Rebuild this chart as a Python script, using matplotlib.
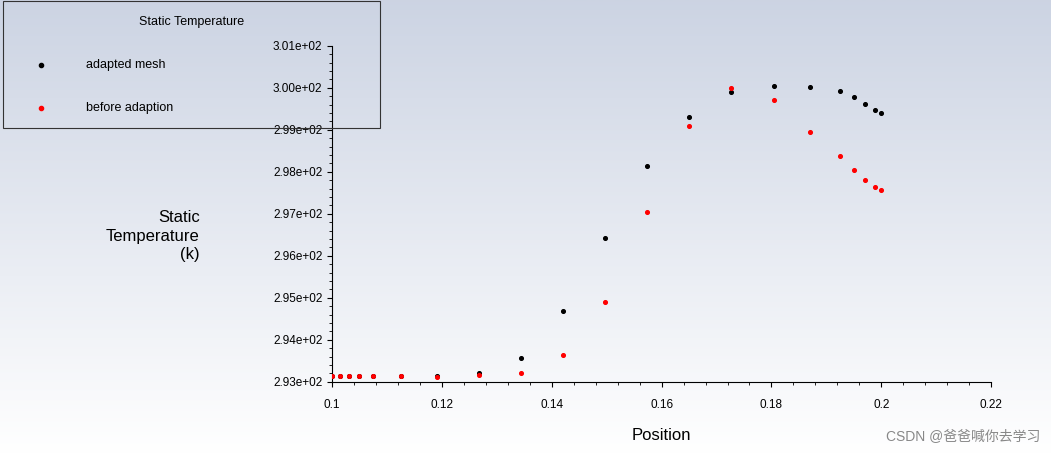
import matplotlib
matplotlib.use("Agg")
import matplotlib.pyplot as plt
import numpy as np
from matplotlib.ticker import MultipleLocator, FuncFormatter

plt.rcParams['font.family'] = ['Liberation Sans', 'Noto Sans CJK SC', 'DejaVu Sans']

x = [0.1, 0.1015, 0.1031, 0.1049, 0.1075, 0.1126, 0.1191, 0.1268, 0.1344, 0.1421, 0.1497,
     0.1574, 0.165, 0.1727, 0.1805, 0.1870, 0.1925, 0.1951, 0.1971, 0.1989, 0.2]
adapted = [293.15, 293.15, 293.15, 293.15, 293.15, 293.15, 293.14, 293.2, 293.57, 294.69, 296.43,
           298.14, 299.31, 299.9, 300.05, 300.02, 299.93, 299.79, 299.62, 299.48, 299.40]
before = [293.15, 293.15, 293.15, 293.15, 293.15, 293.14, 293.12, 293.17, 293.21, 293.64, 294.9,
          297.05, 299.1, 300.0, 299.71, 298.95, 298.38, 298.05, 297.81, 297.64, 297.57]

fig = plt.figure(figsize=(10.51, 4.54), dpi=100)
bg = fig.add_axes([0, 0, 1, 1], zorder=-10)
grad = np.linspace(0, 1, 256).reshape(-1, 1)
top = np.array([0.80, 0.83, 0.89]); bot = np.array([1.0, 1.0, 1.0])
img = top[None, None, :] * (1 - grad[:, :, None]) + bot[None, None, :] * grad[:, :, None]
bg.imshow(img, aspect='auto', extent=[0, 1, 0, 1])
bg.axis('off')

ax = fig.add_axes([0.316, 0.159, 0.627, 0.740])
ax.patch.set_alpha(0)
ax.scatter(x, adapted, s=7, color='black', zorder=3)
ax.scatter(x, before, s=7, color='red', zorder=3)
ax.set_xlim(0.1, 0.22)
ax.set_ylim(293, 301)
for s in ['top', 'right']:
    ax.spines[s].set_visible(False)
ax.xaxis.set_major_locator(MultipleLocator(0.02))
ax.xaxis.set_minor_locator(MultipleLocator(0.004))
ax.yaxis.set_major_locator(MultipleLocator(1))
ax.yaxis.set_minor_locator(MultipleLocator(0.2))
ax.yaxis.set_major_formatter(FuncFormatter(lambda v, p: f"{v/100:.2f}e+02"))
ax.xaxis.set_major_formatter(FuncFormatter(lambda v, p: f"{v:g}"))
ax.tick_params(labelsize=8.5)
ax.tick_params(axis='x', pad=9)
ax.set_xlabel("Position", fontsize=12, labelpad=12)
fig.text(0.19, 0.48, "Static\nTemperature\n(k)", ha='right', va='center', fontsize=12,
         multialignment='right', linespacing=1.3)

# legend box
fig.patches.append(plt.Rectangle((0.003, 0.717), 0.359, 0.281, transform=fig.transFigure,
                                 facecolor='none', edgecolor='#333333', linewidth=0.8))
fig.text(0.182, 0.952, "Static Temperature", ha='center', va='center', fontsize=9)
fig.lines.append(plt.Line2D([0.039], [0.857], marker='o', markersize=3, color='black', transform=fig.transFigure))
fig.lines.append(plt.Line2D([0.039], [0.763], marker='o', markersize=3, color='red', transform=fig.transFigure))
fig.text(0.082, 0.857, "adapted mesh", va='center', fontsize=9)
fig.text(0.082, 0.763, "before adaption", va='center', fontsize=9)
fig.text(0.99, 0.04, "CSDN @爸爸喊你去学习", ha='right', va='center', fontsize=10, color='#888888')

fig.savefig("out.png", dpi=100)
